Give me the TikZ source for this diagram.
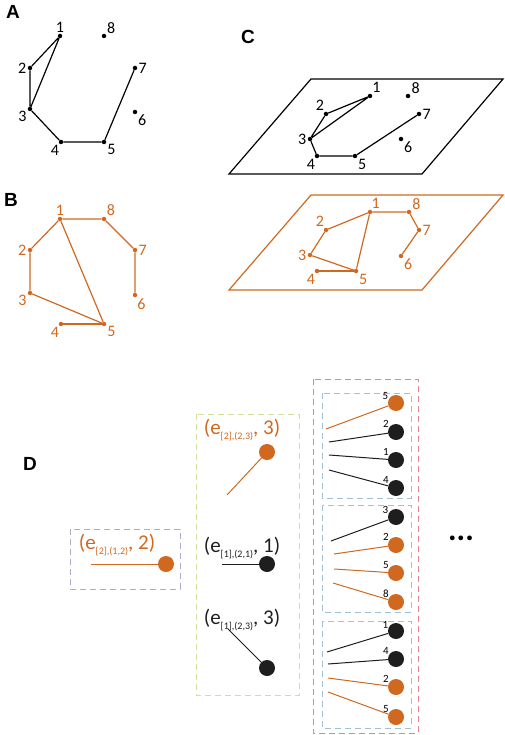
\documentclass[tikz,border=0pt]{standalone}
\usepackage{fontspec}
\setmainfont{Carlito}
\newfontfamily\headfont{Liberation Sans}
\usetikzlibrary{calc}
\definecolor{netorange}{RGB}{208,104,32}
\definecolor{dotblack}{RGB}{30,30,30}
\definecolor{boxgrey}{RGB}{178,170,205}
\definecolor{boxyellow}{RGB}{212,222,150}
\definecolor{boxred}{RGB}{232,128,150}
\definecolor{boxblue}{RGB}{160,192,212}
\newcommand{\sbs}[1]{\raisebox{-0.28em}{\fontsize{10}{10}\selectfont #1}}

\begin{document}
\begin{tikzpicture}[x=1pt,y=-1pt,
    panel/.style={font=\headfont\bfseries\fontsize{19}{19}\selectfont, inner sep=0},
    pt/.style={circle, fill, inner sep=0, minimum size=4.5pt},
    lbl/.style={font=\fontsize{16}{16}\selectfont, inner sep=1pt},
    edge/.style={line width=1.2pt},
    ball/.style={circle, fill, inner sep=0, minimum size=16pt},
    tiny/.style={font=\fontsize{11}{11}\selectfont, inner sep=0},
    pair/.style={font=\fontsize{21}{21}\selectfont, inner sep=0},
    stick/.style={line width=1pt},
    group/.style={dashed, dash pattern=on 6pt off 4pt, line width=0.9pt}]
    \useasboundingbox (0,0) rectangle (505,735);

    % Panel A
    \node[panel] (labA) at (13,12) {A};
    \node[pt, label={[lbl]above:1}] (a1) at (60,36) {};
    \node[pt, label={[lbl]left:2}] (a2) at (30,68) {};
    \node[pt, label={[lbl]200:3}] (a3) at (30,109) {};
    \node[pt, label={[lbl]250:4}] (a4) at (61,142) {};
    \node[pt, label={[lbl]-30:5}] (a5) at (104,142) {};
    \node[pt, label={[lbl]-40:6}] (a6) at (135,112) {};
    \node[pt, label={[lbl]right:7}] (a7) at (135,68) {};
    \node[pt, label={[lbl]40:8}] (a8) at (104,36) {};
    \draw[edge] (a1) -- (a2) -- (a3) -- (a1);
    \draw[edge] (a3) -- (a4) -- (a5) -- (a7);

    % Panel B
    \begin{scope}[netorange]
        \node[panel, black] (labB) at (11,200) {B};
        \node[pt, label={[lbl]above:1}] (b1) at (60,219) {};
        \node[pt, label={[lbl]45:8}] (b8) at (104,219) {};
        \node[pt, label={[lbl]left:2}] (b2) at (30,250) {};
        \node[pt, label={[lbl]right:7}] (b7) at (135,250) {};
        \node[pt, label={[lbl]200:3}] (b3) at (30,293) {};
        \node[pt, label={[lbl]-60:6}] (b6) at (135,295) {};
        \node[pt, label={[lbl]250:4}] (b4) at (61,324) {};
        \node[pt, label={[lbl]-30:5}] (b5) at (104,324) {};
        \draw[edge] (b6) -- (b7) -- (b8) -- (b1) -- (b2) -- (b3) -- (b5) -- (b1);
        \draw[edge] (b4) -- (b5);
    \end{scope}

    % Panel C, black plane
    \node[panel] (labC) at (248,37) {C};
    \draw[edge] (311,79) -- (503,79) -- (422,174) -- (229,174) -- cycle;
    \node[pt, label={[lbl]60:1}] (c1) at (370,96) {};
    \node[pt, label={[lbl]20:8}] (c8) at (408,96) {};
    \node[pt, label={[lbl]110:2}] (c2) at (326,114) {};
    \node[pt, label={[lbl]right:7}] (c7) at (419,114) {};
    \node[pt, label={[lbl]left:3}] (c3) at (310,139) {};
    \node[pt, label={[lbl]-40:6}] (c6) at (401,139) {};
    \node[pt, label={[lbl]250:4}] (c4) at (317,156) {};
    \node[pt, label={[lbl]-40:5}] (c5) at (355,156) {};
    \draw[edge] (c1) -- (c2) -- (c3) -- (c1);
    \draw[edge] (c3) -- (c4) -- (c5) -- (c7);

    % Panel C, orange plane
    \begin{scope}[netorange]
        \draw[edge] (311,195) -- (503,195) -- (422,290) -- (229,290) -- cycle;
        \node[pt, label={[lbl]80:1}] (o1) at (370,212) {};
        \node[pt, label={[lbl]30:8}] (o8) at (409,212) {};
        \node[pt, label={[lbl]110:2}] (o2) at (326,230) {};
        \node[pt, label={[lbl]right:7}] (o7) at (419,230) {};
        \node[pt, label={[lbl]left:3}] (o3) at (310,255) {};
        \node[pt, label={[lbl]-40:6}] (o6) at (401,256) {};
        \node[pt, label={[lbl]250:4}] (o4) at (317,271) {};
        \node[pt, label={[lbl]-40:5}] (o5) at (356,271) {};
        \draw[edge] (o6) -- (o7) -- (o8) -- (o1) -- (o2) -- (o3) -- (o5) -- (o1);
        \draw[edge] (o4) -- (o5);
    \end{scope}

    % Panel D
    \node[panel] (labD) at (30,464) {D};

    % first group
    \draw[group, boxgrey] (70,529) rectangle (180,589);
    \node[pair, netorange] (p1) at (117,545) {(e\sbs{[2],(1,2)}, 2)};
    \coordinate (p1s) at (91,564);
    \node[ball, netorange] (p1d) at (166,564) {};
    \draw[stick, netorange] (p1s) -- (p1d);

    % second group
    \draw[group, boxyellow] (196,414) rectangle (299,695);
    \node[pair, netorange] (q1) at (242,430) {(e\sbs{[2],(2,3)}, 3)};
    \coordinate (q1s) at (227,495);
    \node[ball, netorange] (q1d) at (267,452) {};
    \draw[stick, netorange] (q1s) -- (q1d);
    \node[pair, dotblack] (q2) at (242,548) {(e\sbs{[1],(2,1)}, 1)};
    \coordinate (q2s) at (222,564);
    \node[ball, dotblack] (q2d) at (267,564) {};
    \draw[stick, dotblack] (q2s) -- (q2d);
    \node[pair, dotblack] (q3) at (242,620) {(e\sbs{[1],(2,3)}, 3)};
    \coordinate (q3s) at (228,629);
    \node[ball, dotblack] (q3d) at (267,668) {};
    \draw[stick, dotblack] (q3s) -- (q3d);

    % third group
    \draw[group, boxred] (313,379) rectangle (418,733);
    \draw[group, boxblue] (322,393) rectangle (411,498);
    \draw[group, boxblue] (322,505) rectangle (411,612);
    \draw[group, boxblue] (322,621) rectangle (411,728);

    \node[ball, netorange, label={[tiny]160:5}] (r1) at (396,403) {};
    \coordinate (r1s) at (326,429);
    \draw[stick, netorange] (r1s) -- (r1);
    \node[ball, dotblack, label={[tiny]150:2}] (r2) at (396,432) {};
    \coordinate (r2s) at (329,442);
    \draw[stick, dotblack] (r2s) -- (r2);
    \node[ball, dotblack, label={[tiny]150:1}] (r3) at (396,460) {};
    \coordinate (r3s) at (329,455);
    \draw[stick, dotblack] (r3s) -- (r3);
    \node[ball, dotblack, label={[tiny]150:4}] (r4) at (396,488) {};
    \coordinate (r4s) at (329,470);
    \draw[stick, dotblack] (r4s) -- (r4);

    \node[ball, dotblack, label={[tiny]160:3}] (r5) at (396,517) {};
    \coordinate (r5s) at (331,541);
    \draw[stick, dotblack] (r5s) -- (r5);
    \node[ball, netorange, label={[tiny]150:2}] (r6) at (396,545) {};
    \coordinate (r6s) at (334,554);
    \draw[stick, netorange] (r6s) -- (r6);
    \node[ball, netorange, label={[tiny]150:5}] (r7) at (396,573) {};
    \coordinate (r7s) at (334,569);
    \draw[stick, netorange] (r7s) -- (r7);
    \node[ball, netorange, label={[tiny]150:8}] (r8) at (396,602) {};
    \coordinate (r8s) at (333,583);
    \draw[stick, netorange] (r8s) -- (r8);

    \node[ball, dotblack, label={[tiny]160:1}] (r9) at (396,631) {};
    \coordinate (r9s) at (327,652);
    \draw[stick, dotblack] (r9s) -- (r9);
    \node[ball, dotblack, label={[tiny]150:4}] (r10) at (396,659) {};
    \coordinate (r10s) at (328,664);
    \draw[stick, dotblack] (r10s) -- (r10);
    \node[ball, netorange, label={[tiny]150:2}] (r11) at (396,687) {};
    \coordinate (r11s) at (328,678);
    \draw[stick, netorange] (r11s) -- (r11);
    \node[ball, netorange, label={[tiny]150:5}] (r12) at (396,717) {};
    \coordinate (r12s) at (328,692);
    \draw[stick, netorange] (r12s) -- (r12);

    \node[font=\fontsize{32}{32}\selectfont\bfseries, inner sep=0] (more) at (461,538) {...};
\end{tikzpicture}
\end{document}
